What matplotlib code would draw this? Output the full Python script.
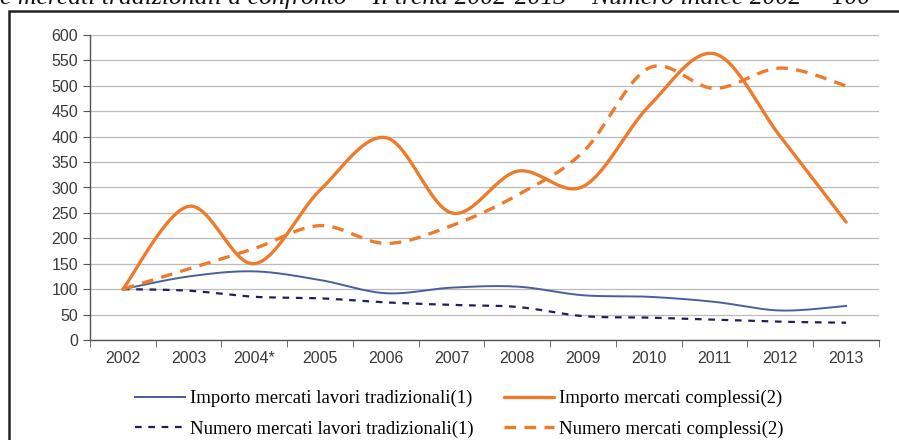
import numpy as np
import matplotlib
matplotlib.use("Agg")
import matplotlib.pyplot as plt
from matplotlib.patches import Rectangle

anni = ['2002', '2003', '2004*', '2005', '2006', '2007', '2008', '2009', '2010', '2011', '2012', '2013']
importo_tradizionali = [100, 125, 135, 118, 92, 103, 105, 88, 85, 75, 58, 67]
importo_complessi = [100, 263, 150, 295, 398, 250, 332, 302, 460, 563, 400, 232]
numero_tradizionali = [100, 97, 85, 82, 74, 69, 65, 47, 44, 40, 36, 34]
numero_complessi = [100, 140, 180, 225, 190, 225, 285, 370, 535, 495, 535, 500]


def liscia(y, passi=30):
    # curva smussata tipo Excel (Bezier con punti di controllo Catmull-Rom)
    x = np.arange(len(y), dtype=float)
    y = np.asarray(y, dtype=float)
    px = np.concatenate([[x[0]], x, [x[-1]]])
    py = np.concatenate([[y[0]], y, [y[-1]]])
    xs, ys = [], []
    t = np.linspace(0, 1, passi)
    for i in range(1, len(px) - 2):
        p0 = np.array([px[i - 1], py[i - 1]])
        p1 = np.array([px[i], py[i]])
        p2 = np.array([px[i + 1], py[i + 1]])
        p3 = np.array([px[i + 2], py[i + 2]])
        c1 = p1 + (p2 - p0) / 6
        c2 = p2 - (p3 - p1) / 6
        b = ((1 - t) ** 3)[:, None] * p1 + (3 * (1 - t) ** 2 * t)[:, None] * c1 \
            + (3 * (1 - t) * t ** 2)[:, None] * c2 + (t ** 3)[:, None] * p2
        xs.extend(b[:, 0])
        ys.extend(b[:, 1])
    return xs, ys


fig = plt.figure(figsize=(8.99, 4.4), dpi=100)
ax = fig.add_axes([90 / 899, 100 / 440, 789 / 899, 305 / 440])

arancio = '#EE7A2C'
blu = '#4A5E9E'
blu_scuro = '#1E2058'

l1, = ax.plot(*liscia(importo_tradizionali), color=blu, lw=1.4)
l2, = ax.plot(*liscia(numero_tradizionali), color=blu_scuro, lw=1.6, dashes=(3, 3))
l3, = ax.plot(*liscia(importo_complessi), color=arancio, lw=2.4, solid_capstyle='round')
l4, = ax.plot(*liscia(numero_complessi), color=arancio, lw=2.4, dashes=(3.5, 2.5))

ax.set_xlim(-0.5, len(anni) - 0.5)
ax.set_ylim(0, 600)
ax.set_yticks(range(0, 601, 50))
ax.set_xticks(range(len(anni)))
ax.set_xticklabels(anni)
ax.set_xticks(np.arange(-0.5, len(anni), 1), minor=True)
for lab in ax.get_xticklabels() + ax.get_yticklabels():
    lab.set_family('Liberation Sans')
ax.tick_params(axis='x', which='major', length=0, pad=8, labelsize=11.5, labelcolor='#3A3A3A')
ax.tick_params(axis='x', which='minor', length=5, color='#555555', direction='out')
ax.tick_params(axis='y', length=5, color='#555555', labelsize=11.5, labelcolor='#3A3A3A')
ax.grid(axis='y', color='#BBBBBB', lw=0.9)
ax.set_axisbelow(True)
for s in ['top', 'right']:
    ax.spines[s].set_visible(False)
for s in ['left', 'bottom']:
    ax.spines[s].set_color('#555555')
    ax.spines[s].set_linewidth(1.0)

fig.legend([l1, l2, l3, l4],
           ['Importo mercati lavori tradizionali(1)', 'Numero mercati lavori tradizionali(1)',
            'Importo mercati complessi(2)', 'Numero mercati complessi(2)'],
           ncol=2, loc='center left', bbox_to_anchor=(135 / 899, 1 - 414 / 440),
           frameon=False, borderpad=0, borderaxespad=0,
           handlelength=2.67, handletextpad=0.27, columnspacing=1.6,
           labelspacing=0.72, prop={'family': 'Liberation Serif', 'size': 13.5})

# cornice del riquadro
fig.patches.append(Rectangle((9 / 899, -0.05), 1.0, 1 - 11 / 440 + 0.05,
                             transform=fig.transFigure, fill=False,
                             edgecolor='#222222', lw=1.8))

fig.text(0.0, 1 - 4 / 440, 'e mercati tradizionali a confronto \u2013 Il trend 2002-2013 \u2013 Numero indice 2002 = 100',
         family='Liberation Serif', style='italic', size=18.5, va='baseline', color='#111111')

fig.savefig('out.png', dpi=100)
